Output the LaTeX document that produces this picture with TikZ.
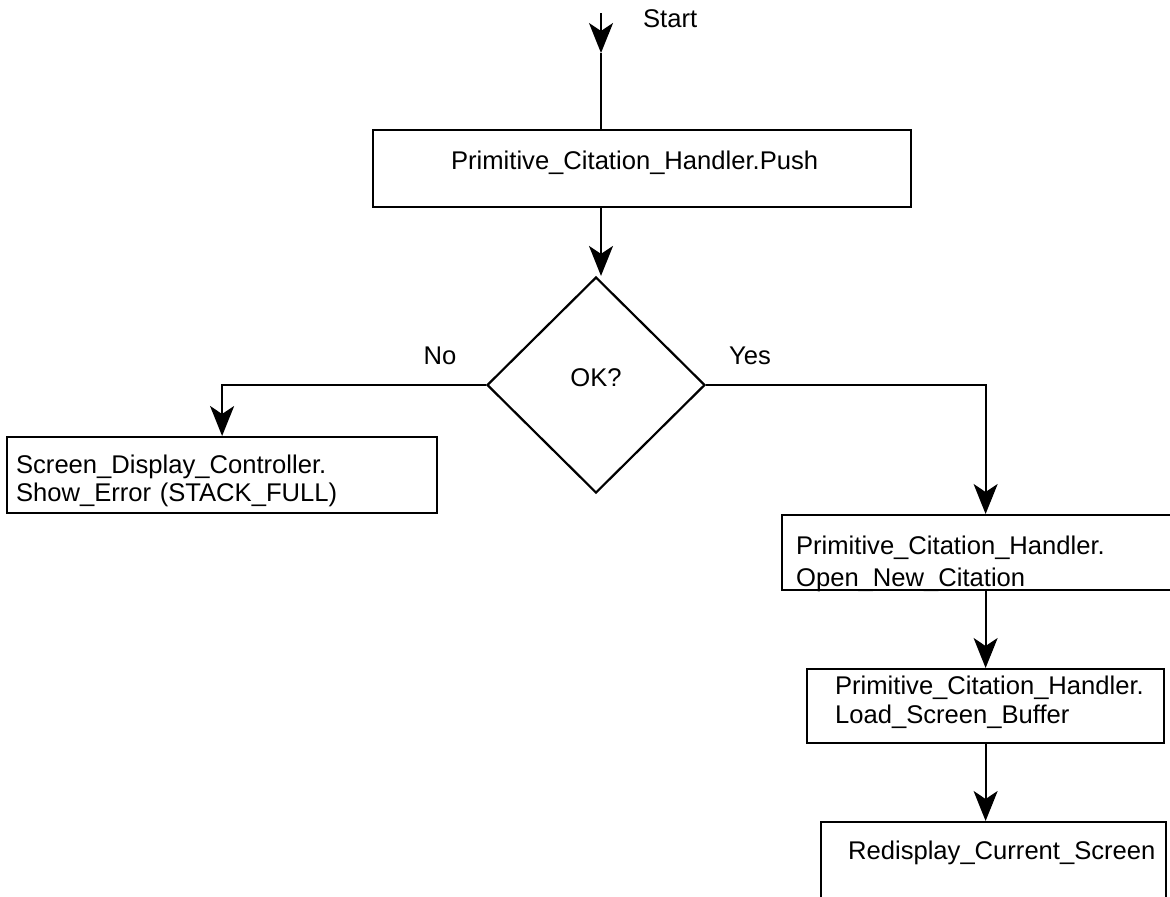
\documentclass[tikz,border=0pt]{standalone}
\usepackage{fontspec}
\setmainfont{Liberation Sans}[HyphenChar=None]
\usetikzlibrary{positioning,arrows.meta,shapes.geometric}

\begin{document}
\begin{tikzpicture}[x=0.5pt, y=-0.5pt, line width=1.1pt,
  font=\fontsize{12.8}{14.5}\selectfont,
  >={Stealth[length=15pt, width=12pt, inset=4pt]},
  box/.style={draw, anchor=north west, align=left, inner ysep=0pt},
  cond/.style={draw, diamond, minimum width=109pt, minimum height=108pt, inner sep=0pt},
  tag/.style={inner sep=0pt}]
  \useasboundingbox (0,0) rectangle (1170,896);

  % entry point
  \coordinate (start) at (601,13);
  \coordinate (entry) at (601,53);
  \node[tag, anchor=base west] (startlbl) at (642,27) {Start};

  % boxes
  \node[box, text width=191pt, inner xsep=39pt, text height=19.5pt, text depth=19pt]
    (push) at (372,129) {Primitive\_Citation\_Handler.Push};
  \node[cond, text height=6pt, text depth=5pt] (ok) at (596,385) {OK?};
  \node[box, text width=206pt, inner xsep=4.5pt, text height=18pt, text depth=20pt,
    font=\fontsize{12.8}{14}\selectfont]
    (err) at (6,436) {Screen\_Display\_Controller.\\Show\_Error (STACK\_FULL)};
  \node[box, text width=195.5pt, inner xsep=7pt, text height=19.5pt, text depth=18pt,
    font=\fontsize{12.8}{16}\selectfont]
    (open) at (781,514) {Primitive\_Citation\_Handler.\\Open\_New\_Citation};
  \node[box, text width=150.5pt, inner xsep=14pt, text height=12.5pt, text depth=24.5pt]
    (load) at (806,668) {Primitive\_Citation\_Handler.\\Load\_Screen\_Buffer};
  \node[box, text width=145.5pt, inner xsep=13.5pt, text height=18.5pt, text depth=40pt]
    (redisp) at (820,821) {Redisplay\_Current\_Screen};

  % branch labels
  \node[tag, anchor=base] (nolbl) at (440,364) {No};
  \node[tag, anchor=base] (yeslbl) at (750,364) {Yes};

  % connectors
  \draw[->] (start) -- (entry);
  \draw (entry) -- (push.north -| start);
  \draw[->] (push.south -| start) -- (ok.north -| start);
  \draw[->] (ok.west) -| (err.north);
  \draw[->] (ok.east) -| (open.north -| load.north);
  \draw[->] (open.south -| load.north) -- (load.north);
  \draw[->] (load.south) -- (load.south |- redisp.north);
\end{tikzpicture}
\end{document}
